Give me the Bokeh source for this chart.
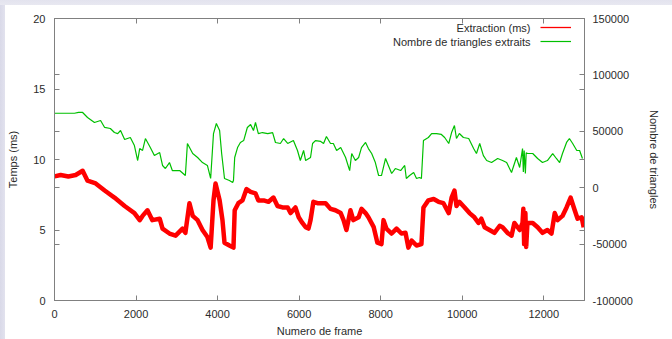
from bokeh.plotting import figure
from bokeh.models import (Range1d, LinearAxis, FixedTicker, Legend, LegendItem, Label)
from bokeh.embed import file_html
from bokeh.resources import INLINE

# ---------------- data ----------------
red_frames = [0, 150, 340, 520, 690, 810, 1010, 1230, 1470, 1720, 1960, 2090, 2160, 2280, 2400,
              2580, 2650, 2820, 2970, 3140, 3210, 3310, 3390, 3510, 3630, 3750, 3830, 3900, 3950,
              4050, 4120, 4170, 4290, 4390, 4420, 4510, 4610, 4710, 4810, 4930, 5000, 5130, 5250,
              5370, 5470, 5590, 5720, 5790, 5910, 5990, 6080, 6160, 6230, 6280, 6350, 6450, 6650,
              6770, 6890, 7020, 7090, 7160, 7260, 7330, 7460, 7530, 7630, 7700, 7830, 7920, 8020,
              8070, 8140, 8270, 8390, 8510, 8610, 8680, 8760, 8880, 9000, 9050, 9170, 9300, 9420,
              9540, 9670, 9740, 9810, 9860, 9930, 10060, 10180, 10300, 10400, 10470, 10550, 10670,
              10790, 10920, 10990, 11110, 11210, 11280, 11410, 11480, 11500, 11520, 11550, 11570,
              11600, 11730, 11850, 11970, 12090, 12190, 12270, 12340, 12460, 12560, 12660, 12760,
              12830, 12930, 12980]
red_ms = [8.8, 8.9, 8.8, 8.9, 9.2, 8.5, 8.3, 7.8, 7.3, 6.7, 6.2, 5.7, 6.0, 6.4, 5.7,
          5.8, 5.1, 4.75, 4.6, 5.1, 4.8, 6.9, 6.0, 5.7, 5.0, 4.5, 3.75, 7.1, 8.3,
          7.1, 5.7, 4.1, 3.9, 3.75, 6.4, 6.9, 7.1, 7.9, 7.7, 7.6, 7.1, 7.1, 7.0,
          7.3, 6.7, 6.6, 6.6, 6.2, 6.6, 5.9, 5.5, 5.2, 5.1, 5.7, 7.0, 6.9, 6.9,
          6.5, 6.4, 6.2, 5.7, 5.0, 6.4, 5.7, 5.9, 6.5, 6.2, 5.9, 5.2, 4.1, 4.0,
          5.7, 5.1, 4.75, 5.1, 4.75, 4.8, 3.75, 4.25, 3.9, 4.0, 6.6, 7.1, 7.2, 7.0,
          6.9, 6.2, 7.3, 7.8, 6.7, 7.0, 6.6, 6.2, 5.9, 5.5, 5.8, 5.2, 5.0,
          4.8, 5.3, 5.2, 4.8, 4.6, 5.5, 5.0, 5.5, 6.5, 4.0, 6.2, 3.8,
          5.5, 5.5, 5.2, 4.8, 5.0, 4.75, 6.2, 5.7, 6.0, 6.6, 7.3, 6.4,
          5.8, 5.9, 5.2]

green_frames = [0, 490, 590, 690, 810, 980, 1130, 1230, 1370, 1470, 1550, 1620, 1720, 1860, 1960,
                2040, 2090, 2160, 2230, 2350, 2450, 2580, 2650, 2720, 2820, 2890, 3070, 3210, 3260,
                3390, 3510, 3630, 3750, 3830, 3900, 3970, 4050, 4100, 4170, 4290, 4370, 4390, 4420,
                4490, 4560, 4640, 4730, 4810, 4880, 4930, 5000, 5100, 5230, 5350, 5420, 5540, 5620,
                5720, 5860, 5960, 6030, 6110, 6160, 6280, 6330, 6400, 6530, 6600, 6670, 6770, 6840,
                6920, 7020, 7140, 7240, 7290, 7380, 7460, 7530, 7630, 7700, 7780, 7870, 7950, 8020,
                8120, 8190, 8270, 8360, 8490, 8590, 8630, 8710, 8810, 8880, 8950, 9000, 9050, 9170,
                9250, 9370, 9490, 9570, 9670, 9740, 9810, 9860, 9930, 10030, 10160, 10280, 10350,
                10430, 10520, 10600, 10720, 10870, 10990, 11090, 11210, 11330, 11410, 11480, 11500,
                11520, 11550, 11570, 11600, 11730, 11850, 11970, 12090, 12220, 12310, 12390, 12460,
                12560, 12630, 12710, 12810, 12880, 12950]
green_tri = [66000, 66000, 66700, 66700, 62200, 57800, 59600, 53400, 52500, 48900, 48000, 50700, 42700, 44500, 37400,
             24100, 34700, 33000, 43600, 35600, 28500, 31200, 19700, 17000, 22300, 15200, 15200, 10800, 39200,
             30300, 26800, 22300, 19700, 8200, 48000, 56900, 50700, 30300, 8200, 6400, 4600, 6400, 26800,
             35600, 40100, 41800, 53400, 56000, 50700, 57800, 48000, 48900, 48000, 48900, 40100, 39200, 43600,
             39200, 41800, 33000, 24100, 33000, 24100, 26800, 39200, 41800, 41000, 39200, 45400, 39200, 39200,
             33000, 35600, 26800, 15200, 30300, 24100, 26800, 35600, 40100, 34700, 30300, 22300, 10800, 10800,
             25900, 19700, 12600, 17000, 15200, 19700, 8200, 10800, 13500, 8200, 9000, 8200, 41800, 44500,
             48000, 48000, 47200, 44500, 39200, 48900, 55100, 43600, 48000, 44500, 43600, 34700, 30300,
             39200, 28500, 24100, 22300, 25900, 24100, 22300, 13500, 26800, 17900, 34700, 14000,
             33000, 12600, 31000, 30300, 30300, 25900, 22300, 24100, 30300, 25900, 22300, 30300,
             40100, 43600, 39200, 33000, 33000, 25900]

x_ticks = [0, 2000, 4000, 6000, 8000, 10000, 12000]
y_ticks = [0, 5, 10, 15, 20]
y_tick_labels = ["0", "5", "10", "15", "20"]
y2_ticks = [-100000, -50000, 0, 50000, 100000, 150000]
y2_tick_labels = ["-100000", "-50000", "0", "50000", "100000", "150000"]

series_names = ["Extraction (ms)", "Nombre de triangles extraits"]
x_label = "Numero de frame"
y_label = "Temps (ms)"
y2_label = "Nombre de triangles"

# ---------------- styling ----------------
FONT = "Liberation Sans"
FS = "11px"
TXT = "#2b2b2b"
GRAY = "#808080"
RED = "#ff0000"
GREEN = "#00c000"
FRAME_W, FRAME_H = 530, 282

y_lo, y_hi = 0, 20
y2_lo, y2_hi = -100000, 150000

p = figure(frame_width=FRAME_W, frame_height=FRAME_H, output_backend="svg", toolbar_location=None,
           x_range=Range1d(0, 13000), y_range=Range1d(y_lo, y_hi),
           min_border_left=54, min_border_right=80, min_border_top=18, min_border_bottom=39)
p.extra_y_ranges = {"y2": Range1d(y2_lo, y2_hi)}
p.background_fill_color = "white"
p.border_fill_alpha = 0
p.outline_line_color = GRAY
p.xgrid.visible = False
p.ygrid.visible = False


def to_y(v):
    return (v - y2_lo) / (y2_hi - y2_lo) * (y_hi - y_lo) + y_lo


def to_y2(v):
    return (v - y_lo) / (y_hi - y_lo) * (y2_hi - y2_lo) + y2_lo


def style_axis(ax):
    ax.axis_line_color = GRAY
    ax.major_tick_line_color = GRAY
    ax.minor_tick_line_color = GRAY
    ax.major_tick_in = 5
    ax.major_tick_out = 0
    ax.minor_tick_in = 5
    ax.minor_tick_out = 0
    ax.major_label_text_font = FONT
    ax.major_label_text_font_size = FS
    ax.major_label_text_color = TXT
    ax.axis_label_text_font = FONT
    ax.axis_label_text_font_size = FS
    ax.axis_label_text_color = TXT
    ax.axis_label_text_font_style = "normal"


# bottom x axis
xa = p.xaxis[0]
style_axis(xa)
xa.ticker = FixedTicker(ticks=x_ticks, minor_ticks=[])
xa.major_label_overrides = {t: str(t) for t in x_ticks}
xa.axis_label = x_label
xa.major_label_standoff = 9
xa.axis_label_standoff = 4

# left y axis (mirrored y2 tick marks drawn as unlabeled minor ticks)
ya = p.yaxis[0]
style_axis(ya)
mirror_left = [to_y(t) for t in y2_ticks if to_y(t) not in y_ticks]
ya.ticker = FixedTicker(ticks=y_ticks, minor_ticks=mirror_left)
ya.major_label_overrides = {t: lab for t, lab in zip(y_ticks, y_tick_labels)}
ya.axis_label = y_label
ya.major_label_standoff = 9
ya.axis_label_standoff = 11

# right y2 axis (mirrored y tick marks as minor ticks)
mirror_right = [to_y2(t) for t in y_ticks if to_y2(t) not in y2_ticks]
y2a = LinearAxis(y_range_name="y2", ticker=FixedTicker(ticks=y2_ticks, minor_ticks=mirror_right))
style_axis(y2a)
y2a.major_label_overrides = {t: lab for t, lab in zip(y2_ticks, y2_tick_labels)}
y2a.major_label_standoff = 8
y2a.axis_label = y2_label
y2a.axis_label_standoff = 12
p.add_layout(y2a, "right")

# top mirrored x ticks (no labels)
xt = LinearAxis(ticker=FixedTicker(ticks=[], minor_ticks=x_ticks))
style_axis(xt)
xt.major_label_standoff = 0
p.add_layout(xt, "above")

# ---------------- data lines ----------------
p.line(red_frames, red_ms, line_color=RED, line_width=4.5, line_join="round")
r_red = p.line(red_frames, red_ms, line_color=RED, line_width=1.3)
r_green = p.line(green_frames, green_tri, y_range_name="y2", line_color=GREEN, line_width=1.2)

# ---------------- legend (text left, sample right, like gnuplot) ----------------
leg = Legend(items=[LegendItem(label=" ", renderers=[r_red]),
                    LegendItem(label=" ", renderers=[r_green])],
             location=(486, 252), orientation="vertical",
             glyph_width=31, glyph_height=14, label_height=14, label_width=1,
             label_text_font_size="2px", label_standoff=0,
             spacing=0, padding=0, margin=0,
             background_fill_alpha=0, border_line_alpha=0)
p.add_layout(leg, "center")
for i, name in enumerate(series_names):
    p.add_layout(Label(x=476, y=273 - 14 * i, x_units="screen", y_units="screen", text=name,
                       text_align="right", text_baseline="middle", text_font=FONT,
                       text_font_size=FS, text_color=TXT))

template = """{% block preamble %}<style>
html, body { background:
  linear-gradient(to bottom, #e3e3ee 0px, #e8e8f1 5px, rgba(255,255,255,0) 5px),
  linear-gradient(to right, #d9d9e8 0px, #e2e2ee 5px, #ffffff 5px); }
</style>{% endblock %}"""

open("out.html", "w").write(file_html(p, INLINE, template=template))
